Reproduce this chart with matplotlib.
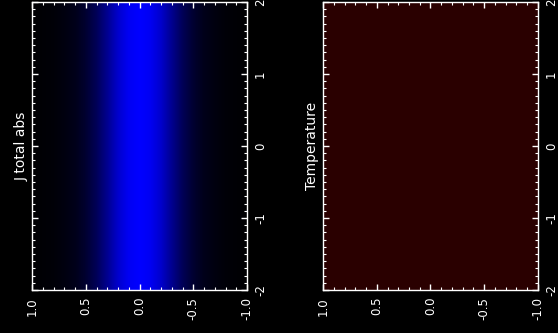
import numpy as np
import matplotlib
matplotlib.use("Agg")
import matplotlib.pyplot as plt
from matplotlib.colors import LinearSegmentedColormap
from matplotlib.ticker import MultipleLocator

# horizontal profile of |J| (0..1) read across the panel, -1.0 .. 1.0
j_pos = [-1.0, -0.9, -0.8, -0.7, -0.6, -0.5, -0.4, -0.3, -0.2, -0.1, 0.0,
         0.1, 0.2, 0.3, 0.4, 0.5, 0.6, 0.7, 0.8, 0.9, 1.0]
j_val = [0.01, 0.02, 0.03, 0.06, 0.1, 0.19, 0.34, 0.56, 0.8, 0.95, 1.0,
         0.95, 0.8, 0.56, 0.34, 0.19, 0.1, 0.06, 0.03, 0.02, 0.01]
# temperature is flat across the box
temp_val = [0.165] * len(j_pos)

titles = ["J total abs", "Temperature"]
x_ticks = [1.0, 0.5, 0.0, -0.5, -1.0]
y_ticks = [-2, -1, 0, 1, 2]

blue_cmap = LinearSegmentedColormap.from_list("jb", ["#000000", "#0000ff"])
red_cmap = LinearSegmentedColormap.from_list("tr", ["#000000", "#ff0000"])

fig = plt.figure(figsize=(5.58, 3.33), dpi=100, facecolor="black")

lefts = [32 / 558, 323 / 558]
datasets = [j_val, temp_val]
cmaps = [blue_cmap, red_cmap]

for left, data, cmap, title in zip(lefts, datasets, cmaps, titles):
    ax = fig.add_axes([left, 43 / 333, 215 / 558, 288 / 333])
    ax.set_facecolor("black")
    img = np.array([data, data])
    ax.imshow(img, cmap=cmap, vmin=0, vmax=1, aspect="auto",
              interpolation="bilinear",
              extent=(j_pos[0] - 0.05, j_pos[-1] + 0.05, -2, 2))
    ax.set_xlim(1, -1)
    ax.set_ylim(-2, 2)

    ax.set_xticks(x_ticks)
    ax.set_xticklabels(["%.1f" % v for v in x_ticks], rotation=90)
    ax.set_yticks(y_ticks)
    ax.set_yticklabels([str(v) for v in y_ticks], rotation=90, va="center")
    ax.xaxis.set_minor_locator(MultipleLocator(0.1))
    ax.yaxis.set_minor_locator(MultipleLocator(0.1))

    ax.tick_params(which="both", direction="in", colors="white",
                   top=True, bottom=True, left=True, right=True,
                   labelleft=False, labelright=True, labelsize=8.5)
    ax.tick_params(which="major", length=4, width=1, pad=5)
    ax.tick_params(which="minor", length=2, width=0.8)
    for s in ax.spines.values():
        s.set_color("white")
        s.set_linewidth(1)

    ax.text(-0.05, 0.5, title, transform=ax.transAxes, rotation=90,
            ha="center", va="center", color="white", fontsize=10)

fig.savefig("out.png", dpi=100, facecolor="black")
